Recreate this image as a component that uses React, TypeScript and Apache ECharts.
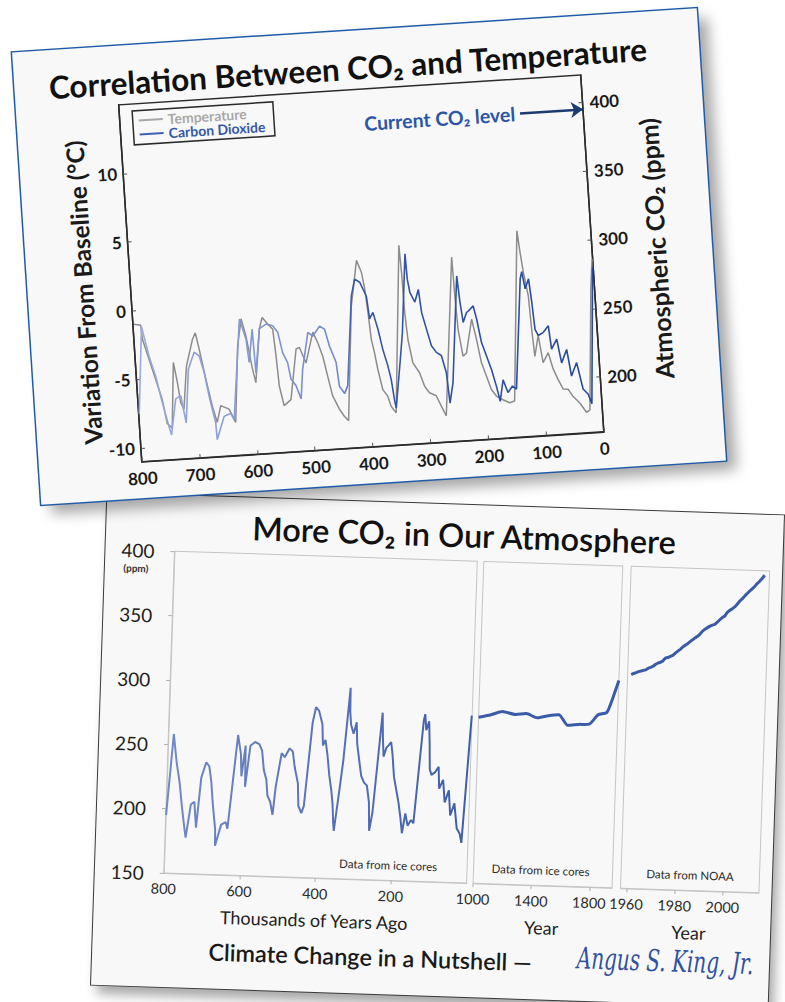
import React, { useEffect, useRef } from "react";
import * as echarts from "echarts";

// ---------- DATA ----------
// Top chart: temperature anomaly (°C) vs thousands of years ago
const tempKyr: [number, number][] = [
  [798, -1.0], [786.5, -1.1], [785.3, -2.1], [771.5, -4.35], [757.7, -6.6], [751.8, -8.35], [743.7, -8.7],
  [734.5, -3.95], [729.8, -5.4], [726.2, -6.9], [721.4, -7.4], [712.4, -4.3], [698.9, -2.35], [693.4, -1.9],
  [688.5, -3.1], [680.4, -5.3], [672.1, -7.3], [665.4, -8.5], [657.6, -7.3], [643.6, -7.6], [633.6, -8.6],
  [621.8, -3.05], [612.9, -1.1], [606.3, -2.4], [598.7, -4.8], [594.4, -5.8], [582.4, -1.9], [576.4, -1.1],
  [567.6, -1.6], [559.5, -2.0], [556.7, -3.95], [554.4, -6.15], [548.2, -7.6], [535.8, -7.2], [521.4, -3.55],
  [515.5, -3.45], [505.7, -4.6], [490.7, -2.4], [483.3, -3.2], [476.2, -4.2], [470, -5.65], [463.6, -7.1],
  [453.5, -8.1], [445.6, -8.65], [438.8, -9.0], [421.4, -0.7], [407.4, 2.6], [400.1, 1.7], [396.3, 0.5],
  [393.4, -1.2], [390.6, -3.2], [386.5, -4.2], [382.7, -5.4], [376.3, -6.9], [368.5, -7.4], [363.9, -8.15],
  [355.9, -8.65], [332.6, 3.5], [331, 1.5], [330, -1.4], [327.4, -3.4], [321.5, -5.1], [311, -5.85],
  [303.9, -6.85], [296.1, -7.35], [284.9, -7.6], [275, -8.6], [269.8, -9.1], [242.9, 2.4], [241.7, -0.4],
  [239.8, -2.9], [234.3, -4.85], [228, -4.65], [215.4, -2.2], [209.2, -3.7], [203.3, -5.4], [196.2, -6.4],
  [189.1, -7.4], [181.2, -7.9], [170.3, -8.2], [159.1, -8.45], [150.3, -8.35], [127.5, 4.0], [124.4, 2.4],
  [120.9, 0.95], [115, -0.8], [113, -3.2], [110.4, -5.2], [102.4, -3.7], [96.9, -5.7], [87, -5.0],
  [80.3, -6.2], [72.9, -7.0], [65.3, -7.7], [56.6, -7.75], [48.8, -8.3], [38.1, -8.8], [27.6, -9.5],
  [21.5, -9.35], [6.5, -0.6], [1, 1.6],
];

// Ice-core CO2 (ppm) vs thousands of years ago (used in both charts)
const co2Kyr: [number, number][] = [
  [799, 195], [796.4, 207], [785.5, 258], [775.6, 236], [766.3, 221], [758, 202], [749.2, 184.5],
  [745.6, 178], [734.5, 204], [725.5, 206], [719, 186], [709.3, 225], [697.5, 237], [689.2, 234],
  [682.5, 222], [676.6, 204.5], [668.2, 185], [667.3, 172.5], [652.9, 189], [641, 191], [636, 186],
  [615.8, 259], [606.6, 244], [603.7, 227], [595, 251], [593.2, 219], [582.4, 251], [570.3, 254],
  [559.1, 252.5], [551.2, 247.5], [545, 232.5], [537.5, 225], [533.5, 213], [525.6, 208], [518.2, 198],
  [512.3, 219.5], [499.3, 246], [491.2, 243], [478.4, 250], [470.1, 247.5], [463.4, 235], [453.9, 223],
  [450.8, 205.5], [442.5, 200], [436.4, 205.5], [420.2, 270.5], [412.6, 282.5], [404.3, 280], [394.3, 269.5],
  [391.2, 253], [384.8, 257.5], [378, 245], [371.8, 230], [365, 218], [360.7, 208], [357.3, 193],
  [355.2, 187], [342.8, 222], [336.2, 241.5], [323, 298.5], [321.9, 280], [318.8, 270], [311.3, 263],
  [304, 272], [300.8, 255], [294.4, 243], [287.6, 230.5], [279.9, 225.5], [271.6, 223], [264.8, 210],
  [261.9, 188], [254.6, 202.5], [236.3, 280], [233.6, 261], [230.3, 246], [223.4, 253], [217.3, 255],
  [211.3, 257.5], [206.8, 248], [200.9, 230.5], [193.8, 220.5], [186.7, 210.5], [180, 198], [175.2, 187],
  [167.9, 202.5], [160.8, 193], [152.3, 197.5], [145.8, 195], [127.1, 275], [123.7, 280], [119.7, 267.5],
  [112.8, 274.5], [109.7, 257], [107.2, 237.5], [102.4, 233], [93.2, 235], [83.9, 239.5], [80.8, 222.5],
  [70.9, 229.5], [65, 212], [54.9, 221.5], [49.4, 202], [39.2, 211.5], [30.9, 192], [22.6, 188],
  [17.4, 181], [3.7, 264], [1, 280],
];

// Ice-core CO2 (ppm), years 1000–1956
const co2Historic: [number, number][] = [
  [1000, 279], [1080, 281], [1163, 284], [1253, 282], [1327, 283], [1403, 280], [1480, 282],
  [1552, 283], [1614, 275], [1690, 276], [1763, 276.5], [1821, 284], [1880, 286], [1920, 298], [1956, 311],
];

// NOAA Mauna Loa CO2 (ppm), annual
const co2NoaaYears: number[] = [
  1959, 1960, 1961, 1962, 1963, 1964, 1965, 1966, 1967, 1968, 1969, 1970, 1971, 1972, 1973, 1974, 1975,
  1976, 1977, 1978, 1979, 1980, 1981, 1982, 1983, 1984, 1985, 1986, 1987, 1988, 1989, 1990, 1991, 1992,
  1993, 1994, 1995, 1996, 1997, 1998, 1999, 2000, 2001, 2002, 2003, 2004, 2005, 2006, 2007, 2008, 2009,
  2010, 2011, 2012, 2013,
];
const co2NoaaPpm: number[] = [
  315.97, 316.91, 317.64, 318.45, 318.99, 319.62, 320.04, 321.38, 322.16, 323.04, 324.62, 325.68, 326.32,
  327.45, 329.68, 330.18, 331.11, 332.04, 333.83, 335.4, 336.84, 338.75, 340.11, 341.45, 343.05, 344.65,
  346.12, 347.42, 349.19, 351.57, 353.12, 354.39, 355.61, 356.45, 357.1, 358.83, 360.82, 362.61, 363.73,
  366.7, 368.38, 369.55, 371.14, 373.28, 375.8, 377.52, 379.8, 381.9, 383.79, 385.6, 387.43, 389.9,
  391.65, 393.85, 396.52,
];

const topTempTicks = [-10, -5, 0, 5, 10];
const topCo2Ticks = [200, 250, 300, 350, 400];
const currentCo2Level = 395;
const iceXTicks = [200, 400, 600, 800];
const histXTicks = [1000, 1400, 1800];
const noaaXTicks = [1960, 1980, 2000];

// ---------- STYLE ----------
const FONT = "Lato, 'Open Sans', 'DejaVu Sans', sans-serif";
const plain = (v: number) => String(v);

function buildTopOption() {
  const axisColor = "#2b2b2b";
  const labelStyle = { fontSize: 17, fontWeight: "bold", color: "#1a1a1a", fontFamily: FONT, formatter: plain };
  return {
    animation: false,
    backgroundColor: "transparent",
    textStyle: { fontFamily: FONT },
    grid: {
      left: 103, top: 59, width: 463, height: 357.6, show: true,
      borderColor: axisColor, borderWidth: 1.5, backgroundColor: "transparent",
    },
    legend: {
      left: 116, top: 66, orient: "vertical", icon: "rect", itemWidth: 24, itemHeight: 2, itemGap: 0,
      padding: [3, 9, 3, 6], borderColor: axisColor, borderWidth: 1.5, backgroundColor: "#f8f8f8",
      selectedMode: false,
      textStyle: { fontSize: 14, lineHeight: 13, fontWeight: "bold", fontFamily: FONT },
      data: [
        { name: "Temperature", itemStyle: { color: "#a8a8a8" }, textStyle: { color: "#a8a8a8" } },
        { name: "Carbon Dioxide", itemStyle: { color: "#3f5fb3" }, textStyle: { color: "#3457ab" } },
      ],
    },
    xAxis: {
      type: "value", min: 0, max: 800, interval: 100, inverse: true,
      axisLine: { show: true, onZero: false, lineStyle: { color: axisColor, width: 1.5 } },
      axisTick: { show: true, inside: true, length: 4, lineStyle: { color: "#555" } },
      axisLabel: { ...labelStyle, margin: 8 },
      splitLine: { show: false },
    },
    yAxis: [
      {
        type: "value", min: -11, max: 15, position: "left",
        axisLine: { show: true, onZero: false, lineStyle: { color: axisColor, width: 1.5 } },
        axisTick: { show: true, inside: true, length: 4, customValues: topTempTicks, lineStyle: { color: "#555" } },
        axisLabel: { ...labelStyle, margin: 6, customValues: topTempTicks },
        splitLine: { show: false },
      },
      {
        type: "value", min: 160, max: 420, position: "right",
        axisLine: { show: true, onZero: false, lineStyle: { color: axisColor, width: 1.5 } },
        axisTick: { show: true, inside: true, length: 4, customValues: topCo2Ticks, lineStyle: { color: "#555" } },
        axisLabel: { ...labelStyle, margin: 7, customValues: topCo2Ticks },
        splitLine: { show: false },
      },
    ],
    graphic: [
      {
        type: "text", x: 334, y: 37,
        style: {
          text: "Correlation Between CO₂ and Temperature", fontSize: 31.5, fontWeight: "bold",
          fontFamily: FONT, fill: "#111", align: "center", verticalAlign: "middle",
        },
      },
      {
        type: "text", x: 56, y: 244, rotation: Math.PI / 2,
        style: {
          text: "Variation From Baseline (°C)", fontSize: 24.5, fontWeight: "bold",
          fontFamily: FONT, fill: "#1a1a1a", align: "center", verticalAlign: "middle",
        },
      },
      {
        type: "text", x: 630, y: 237, rotation: Math.PI / 2,
        style: {
          text: "Atmospheric CO₂ (ppm)", fontSize: 25, fontWeight: "bold",
          fontFamily: FONT, fill: "#1a1a1a", align: "center", verticalAlign: "middle",
        },
      },
    ],
    series: [
      {
        name: "Temperature", type: "line", xAxisIndex: 0, yAxisIndex: 0, data: tempKyr,
        symbol: "none", itemStyle: { color: "#a8a8a8" },
        lineStyle: { color: "#8c8c8c", width: 1.5 }, z: 2,
      },
      {
        name: "Carbon Dioxide", type: "line", xAxisIndex: 0, yAxisIndex: 1, data: co2Kyr,
        symbol: "none", itemStyle: { color: "#3f5fb3" }, z: 3,
        lineStyle: {
          width: 1.6,
          color: new echarts.graphic.LinearGradient(0, 0, 1, 0, [
            { offset: 0, color: "#9aabdc" },
            { offset: 0.44, color: "#7389c9" },
            { offset: 0.48, color: "#3557a8" },
            { offset: 1, color: "#24499e" },
          ]),
        },
        markLine: {
          silent: true, symbol: ["none", "arrow"], symbolSize: 12,
          lineStyle: { color: "#1d3b73", width: 2.5, type: "solid" },
          label: {
            show: true, position: "start", distance: 5, formatter: "Current CO₂ level",
            color: "#2b55a6", fontSize: 19.5, fontWeight: "bold", fontFamily: FONT,
          },
          emphasis: { disabled: true },
          data: [[{ coord: [109, currentCo2Level] }, { coord: [0, currentCo2Level] }]],
        },
      },
    ],
  };
}

function buildBottomOption() {
  const frame = "#c4c4c4";
  const xLabel = { fontSize: 14.5, color: "#2a2a2a", margin: 8, fontFamily: FONT, formatter: plain };
  const xName = { fontSize: 18, color: "#1e1e1e", fontFamily: FONT };
  const grids = [
    { left: 69, top: 56, width: 303, height: 322 },
    { left: 378.5, top: 56, width: 139, height: 322 },
    { left: 526, top: 56, width: 138.5, height: 322 },
  ].map((g) => ({ ...g, show: true, borderColor: frame, borderWidth: 1, backgroundColor: "transparent" }));
  const xCommon = (gridIndex: number, min: number, max: number, ticks: number[], inverse: boolean) => ({
    gridIndex, type: "value", min, max, inverse,
    axisLine: { show: true, onZero: false, lineStyle: { color: frame } },
    axisTick: { show: true, length: 4, customValues: ticks, lineStyle: { color: "#b0b0b0" } },
    axisLabel: { ...xLabel, customValues: ticks },
    splitLine: { show: false },
    nameLocation: "middle", nameGap: 33, nameTextStyle: xName,
  });
  const noaa = co2NoaaYears.map((y, i) => [y, co2NoaaPpm[i]]);
  return {
    animation: false,
    backgroundColor: "transparent",
    textStyle: { fontFamily: FONT },
    grid: grids,
    xAxis: [
      { ...xCommon(0, 0, 800, [200, 400, 600], true), axisLabel: { ...xLabel, customValues: iceXTicks }, name: "Thousands of Years Ago" },
      { ...xCommon(1, 1000, 1956, histXTicks, false), name: "Year" },
      { ...xCommon(2, 1957.5, 2015, noaaXTicks, false), name: "Year" },
    ],
    yAxis: [
      {
        gridIndex: 0, type: "value", min: 150, max: 400, interval: 50,
        axisLine: { show: true, onZero: false, lineStyle: { color: frame } },
        axisTick: { show: true, length: 4, lineStyle: { color: "#b0b0b0" } },
        axisLabel: { fontSize: 19, color: "#1e1e1e", margin: 20, fontFamily: FONT, formatter: plain },
        splitLine: { show: false },
      },
      { gridIndex: 1, type: "value", min: 150, max: 400, show: false },
      { gridIndex: 2, type: "value", min: 150, max: 400, show: false },
    ],
    graphic: [
      {
        type: "text", x: 358, y: 30,
        style: {
          text: "More CO₂ in Our Atmosphere", fontSize: 32.5, fontWeight: 600,
          fontFamily: FONT, fill: "#111", align: "center", verticalAlign: "middle",
        },
      },
      {
        type: "text", x: 31, y: 74,
        style: { text: "(ppm)", fontSize: 10, fontWeight: "bold", fontFamily: FONT, fill: "#333", align: "center", verticalAlign: "middle" },
      },
      {
        type: "text", x: 293, y: 362.5,
        style: { text: "Data from ice cores", fontSize: 11.5, fontFamily: FONT, fill: "#2a2a2a", align: "center", verticalAlign: "middle" },
      },
      {
        type: "text", x: 445.5, y: 362.5,
        style: { text: "Data from ice cores", fontSize: 11.5, fontFamily: FONT, fill: "#2a2a2a", align: "center", verticalAlign: "middle" },
      },
      {
        type: "text", x: 595, y: 362.5,
        style: { text: "Data from NOAA", fontSize: 11.5, fontFamily: FONT, fill: "#2a2a2a", align: "center", verticalAlign: "middle" },
      },
      {
        type: "text", x: 278, y: 455,
        style: {
          text: "Climate Change in a Nutshell —", fontSize: 23.5, fontWeight: 600,
          fontFamily: FONT, fill: "#1a1a1a", align: "center", verticalAlign: "middle",
        },
      },
      {
        type: "text", x: 573, y: 449, scaleY: 1.5,
        style: {
          text: "Angus S. King, Jr.", fontSize: 20, fontStyle: "italic", fontWeight: "lighter",
          fontFamily: "'DejaVu Serif', serif", fill: "#3050a0", align: "center", verticalAlign: "middle",
        },
      },
    ],
    series: [
      {
        type: "line", xAxisIndex: 0, yAxisIndex: 0, data: co2Kyr, symbol: "none",
        lineStyle: {
          width: 2,
          color: new echarts.graphic.LinearGradient(0, 0, 1, 0, [
            { offset: 0, color: "#7189c6" },
            { offset: 1, color: "#3f5ea9" },
          ]),
        },
      },
      {
        type: "line", xAxisIndex: 1, yAxisIndex: 1, data: co2Historic, symbol: "none", smooth: 0.2,
        lineStyle: { width: 3, color: "#3a5ba8" },
      },
      {
        type: "line", xAxisIndex: 2, yAxisIndex: 2, data: noaa, symbol: "none",
        lineStyle: { width: 3, color: "#3a5ba8" },
      },
    ],
  };
}

function ChartCard({ build, style }: { build: () => any; style: React.CSSProperties }) {
  const ref = useRef<HTMLDivElement>(null);
  useEffect(() => {
    const chart = echarts.init(ref.current as HTMLDivElement, null, { renderer: "svg" });
    chart.setOption(build());
    return () => chart.dispose();
  }, [build]);
  return (
    <div style={style}>
      <div ref={ref} style={{ width: "100%", height: "100%" }} />
    </div>
  );
}

export default function App() {
  return (
    <div
      style={{
        position: "fixed", left: 0, top: 0, width: 785, height: 1002,
        overflow: "hidden", background: "#ffffff",
      }}
    >
      <ChartCard
        build={buildBottomOption}
        style={{
          position: "absolute", left: 98.6, top: 504.1, width: 677, height: 492,
          transform: "rotate(1.9deg)", background: "#f8f8f8",
          boxShadow: "0 0 0 1px #3a3a3a, 6px 9px 12px rgba(0,0,0,0.35)", zIndex: 1,
        }}
      />
      <ChartCard
        build={buildTopOption}
        style={{
          position: "absolute", left: 25.9, top: 30.4, width: 686, height: 453,
          transform: "rotate(-3.7deg)", background: "#f8f8f8",
          boxShadow: "0 0 0 1.5px #1f5ca8, 10px 10px 14px rgba(0,0,0,0.35)", zIndex: 2,
        }}
      />
    </div>
  );
}
